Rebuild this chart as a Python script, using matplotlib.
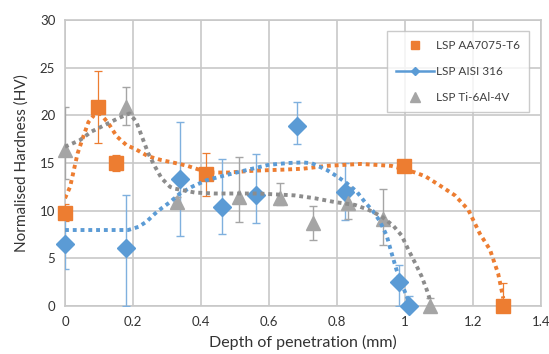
import matplotlib
matplotlib.use("Agg")
import matplotlib.pyplot as plt
from matplotlib.lines import Line2D

plt.rcParams['font.family'] = ['Lato', 'DejaVu Sans']

# measured points
aa_x = [0.0, 0.096, 0.15, 0.416, 0.997, 1.289]
aa_y = [9.8, 20.85, 15.0, 13.8, 14.7, 0.0]
aa_err = [0.9, 3.8, 0.85, 2.3, 0.3, 2.4]

ss_x = [0.0, 0.179, 0.339, 0.461, 0.562, 0.681, 0.824, 0.982, 1.013]
ss_y = [6.5, 6.05, 13.3, 10.35, 11.6, 18.9, 12.0, 2.55, 0.0]
ss_lo = [2.6, 6.05, 6.0, 2.75, 2.9, 1.9, 3.0, 2.55, 1.0]
ss_hi = [2.6, 5.55, 6.0, 5.05, 4.3, 2.5, 3.0, 1.75, 1.0]

ti_x = [0.0, 0.18, 0.33, 0.513, 0.632, 0.73, 0.831, 0.934, 1.074]
ti_y = [16.4, 20.9, 10.9, 11.47, 11.3, 8.7, 10.8, 9.1, 0.0]
ti_lo = [3.1, 1.9, 0.5, 2.7, 0.7, 1.8, 1.7, 2.7, 0.8]
ti_hi = [4.5, 2.1, 0.5, 4.2, 1.6, 1.8, 1.7, 3.2, 0.8]

# dotted trend curves
aa_cx = [0.0, 0.015, 0.037, 0.054, 0.069, 0.085, 0.103, 0.127, 0.152, 0.18, 0.21,
         0.245, 0.284, 0.324, 0.36, 0.42, 0.48, 0.56, 0.64, 0.70, 0.77, 0.87,
         0.96, 1.03, 1.06, 1.10, 1.147, 1.186, 1.22, 1.25, 1.274, 1.284, 1.289]
aa_cy = [11.3, 12.5, 16.0, 17.8, 19.3, 20.0, 20.2, 19.2, 17.8, 16.9, 16.4,
         15.7, 15.3, 15.0, 14.7, 14.0, 14.0, 14.2, 14.3, 14.4, 14.7, 14.9,
         14.7, 14.0, 13.6, 12.7, 11.6, 10.1, 7.6, 5.9, 3.4, 1.7, 0.8]

ss_cx = [0.0, 0.1, 0.186, 0.216, 0.24, 0.265, 0.284, 0.309, 0.338, 0.373, 0.417,
         0.47, 0.539, 0.598, 0.657, 0.70, 0.726, 0.77, 0.80, 0.828, 0.858,
         0.882, 0.907, 0.926, 0.946, 0.961, 0.975, 0.99, 1.005, 1.015]
ss_cy = [7.97, 7.97, 7.97, 8.3, 8.85, 9.7, 10.25, 10.9, 11.8, 12.5, 13.2,
         13.7, 14.3, 14.8, 15.0, 15.06, 14.97, 14.27, 13.6, 12.9, 12.0,
         10.9, 9.9, 8.9, 7.4, 5.5, 3.8, 2.4, 1.0, 0.1]

ti_cx = [0.0, 0.044, 0.078, 0.118, 0.157, 0.19, 0.21, 0.228, 0.245, 0.265, 0.284,
         0.309, 0.324, 0.382, 0.44, 0.569, 0.676, 0.735, 0.794, 0.853, 0.892,
         0.931, 0.966, 0.99, 1.01, 1.03, 1.049, 1.064, 1.074]
ti_cy = [16.7, 17.4, 18.3, 19.0, 19.7, 20.2, 19.3, 17.6, 16.0, 14.6, 13.4,
         12.5, 12.3, 11.9, 11.8, 11.8, 11.6, 11.3, 10.9, 10.6, 10.1,
         9.4, 8.4, 7.4, 5.9, 4.5, 3.1, 1.7, 0.6]

orange = '#ED7D31'
blue = '#5B9BD5'
gray = '#A5A5A5'

fig = plt.figure(figsize=(5.49, 3.54), dpi=100)
ax = fig.add_axes([0.1184, 0.1356, 0.8670, 0.8079])

e1 = ax.errorbar(aa_x, aa_y, yerr=aa_err, fmt='s', color=orange, ms=9.5,
                 ecolor=orange, elinewidth=0.9, capsize=3, capthick=0.9, zorder=3)
e2 = ax.errorbar(ss_x, ss_y, yerr=[ss_lo, ss_hi], fmt='D', color=blue, ms=9,
                 ecolor='#7FB0DE', elinewidth=1.0, capsize=3, capthick=1.0, zorder=3)
e3 = ax.errorbar(ti_x, ti_y, yerr=[ti_lo, ti_hi], fmt='^', color=gray, ms=10.5,
                 ecolor=gray, elinewidth=1.0, capsize=3, capthick=1.0, zorder=3)
# markers at x=0 / y=0 are not cut by the axes edge
for e in (e1, e2, e3):
    e[0].set_clip_on(False)

# dotted smoothed trend lines
for cx, cy, c in [(aa_cx, aa_cy, orange), (ss_cx, ss_cy, blue), (ti_cx, ti_cy, '#8C8C8C')]:
    ln, = ax.plot(cx, cy, color=c, lw=2.8, dashes=(1, 1), zorder=4)
    ln.set_dash_capstyle('butt')

ax.set_xlim(0, 1.4)
ax.set_ylim(0, 30)
ax.set_xticks([0, 0.2, 0.4, 0.6, 0.8, 1, 1.2, 1.4])
ax.set_xticklabels(['0', '0.2', '0.4', '0.6', '0.8', '1', '1.2', '1.4'])
ax.set_yticks([0, 5, 10, 15, 20, 25, 30])
ax.grid(True, color='#C8C8C8', lw=1.2)
ax.set_axisbelow(True)
for s in ax.spines.values():
    s.set_color('#C8C8C8')
    s.set_linewidth(1.2)
ax.tick_params(length=0, labelsize=9.5, colors='#333333', pad=7)

ax.set_xlabel('Depth of penetration (mm)', fontsize=11.5, color='#333333', labelpad=5)
ax.set_ylabel('Normalised Hardness (HV)', fontsize=11, color='#333333', labelpad=8)

handles = [
    Line2D([], [], color=orange, marker='s', ls='none', ms=6),
    Line2D([], [], color=blue, marker='D', ms=4.5, lw=1.8),
    Line2D([], [], color=gray, marker='^', ls='none', ms=6.5),
]
leg = ax.legend(handles, ['LSP AA7075-T6', 'LSP AISI 316', 'LSP Ti-6Al-4V'],
                loc='upper right', bbox_to_anchor=(0.975, 0.9615), borderaxespad=0,
                fontsize=8.5, frameon=True, fancybox=False, edgecolor='#BFBFBF',
                labelspacing=1.25, borderpad=0.8, handlelength=3.2, handletextpad=0.15,
                labelcolor='#404040')
leg.get_frame().set_linewidth(1.0)

fig.savefig('out.png', dpi=100)
